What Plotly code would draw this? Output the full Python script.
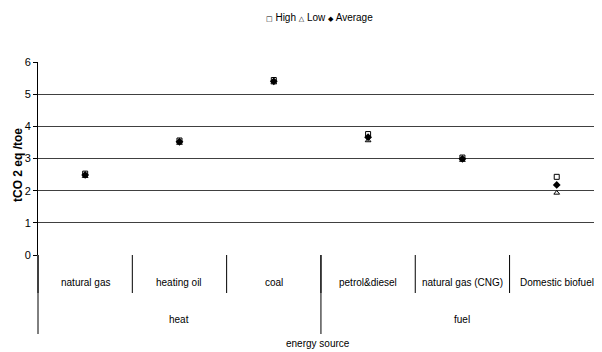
import plotly.graph_objects as go

categories = ["natural gas", "heating oil", "coal", "petrol&diesel", "natural gas (CNG)", "Domestic biofuel"]
groups = ["heat", "heat", "heat", "fuel", "fuel", "fuel"]
high = [2.53, 3.56, 5.44, 3.76, 3.03, 2.43]
low = [2.45, 3.48, 5.36, 3.56, 2.95, 1.93]
average = [2.49, 3.52, 5.40, 3.66, 2.99, 2.18]
y_ticks = [0, 1, 2, 3, 4, 5, 6]

FONT = "Liberation Sans Narrow, Arial Narrow, Liberation Sans, Arial, sans-serif"
OFF = 8  # page body margin in the browser
W, H = 602 - OFF, 352 - OFF
L, R, T, B = 30, 0, 54, 97
XR = [-0.5, 5.48]
plot_h = H - T - B
plot_w = W - L - R

def xp(v):
    return (v - XR[0]) / (XR[1] - XR[0])

def xpx(px):
    # reference pixel column -> paper coordinate
    return (px - OFF - L) / plot_w

def yp(px):
    # reference pixel row -> paper coordinate
    return (H - B - (px - OFF)) / plot_h

xs = list(range(len(categories)))

fig = go.Figure()
fig.add_trace(go.Scatter(x=xs, y=high, mode="markers", name="High",
                         marker=dict(symbol="square-open", size=5, color="black", line=dict(width=1))))
fig.add_trace(go.Scatter(x=xs, y=low, mode="markers", name="Low",
                         marker=dict(symbol="triangle-up-open", size=5, color="black", line=dict(width=1))))
fig.add_trace(go.Scatter(x=xs, y=average, mode="markers", name="Average",
                         marker=dict(symbol="diamond", size=6, color="black")))

shapes = []
for i in range(len(categories)):
    shapes.append(dict(type="line", xref="paper", yref="paper", x0=xp(i - 0.5), x1=xp(i - 0.5),
                       y0=0, y1=yp(293), line=dict(color="black", width=1)))
prev = None
for i, g in enumerate(groups):
    if g != prev:
        shapes.append(dict(type="line", xref="paper", yref="paper", x0=xp(i - 0.5), x1=xp(i - 0.5),
                           y0=0, y1=yp(334), line=dict(color="black", width=1)))
        prev = g

annotations = []
for i, c in enumerate(categories):
    annotations.append(dict(x=i, xref="x", y=yp(282), yref="paper", text=c, showarrow=False,
                            xanchor="center", yanchor="middle",
                            font=dict(size=10, color="black", family=FONT)))
uniq = []
for g in groups:
    if g not in uniq:
        uniq.append(g)
for g in uniq:
    idx = [i for i, gg in enumerate(groups) if gg == g]
    annotations.append(dict(x=(idx[0] + idx[-1]) / 2, xref="x", y=yp(319), yref="paper", text=g,
                            showarrow=False, xanchor="center", yanchor="middle",
                            font=dict(size=10, color="black", family=FONT)))
annotations.append(dict(x=xpx(318), xref="paper", y=yp(343), yref="paper", text="energy source",
                        showarrow=False, xanchor="center", yanchor="middle",
                        font=dict(size=10, color="black", family=FONT)))
annotations.append(dict(x=xpx(319), xref="paper", y=yp(17), yref="paper",
                        text="<span style='font-family:DejaVu Sans;font-size:7px'>□</span> High "
                             "<span style='font-family:DejaVu Sans;font-size:7px'>△</span> Low "
                             "<span style='font-family:DejaVu Sans;font-size:7px'>◆</span> Average",
                        showarrow=False, xanchor="center", yanchor="middle",
                        font=dict(size=10, color="black", family=FONT)))
annotations.append(dict(x=xpx(18), xref="paper", y=yp(165), yref="paper",
                        text="<b>tCO 2 eq /toe</b>", textangle=-90, showarrow=False,
                        xanchor="center", yanchor="middle",
                        font=dict(size=12, color="black", family=FONT)))

fig.update_layout(
    width=W, height=H,
    margin=dict(l=L, r=R, t=T, b=B),
    paper_bgcolor="white", plot_bgcolor="white",
    showlegend=False,
    shapes=shapes, annotations=annotations,
    xaxis=dict(range=XR, showgrid=False, zeroline=False, showticklabels=False, ticks="",
               showline=False, fixedrange=True),
    yaxis=dict(range=[0, 6], tickvals=y_ticks, showgrid=True, gridcolor="#404040", gridwidth=1,
               zeroline=False, showline=True, linecolor="black", linewidth=1,
               ticks="outside", ticklen=4, tickcolor="black",
               tickfont=dict(size=11, color="black", family=FONT), fixedrange=True),
    font=dict(family=FONT, color="black"),
)

fig.write_html("out.html")
